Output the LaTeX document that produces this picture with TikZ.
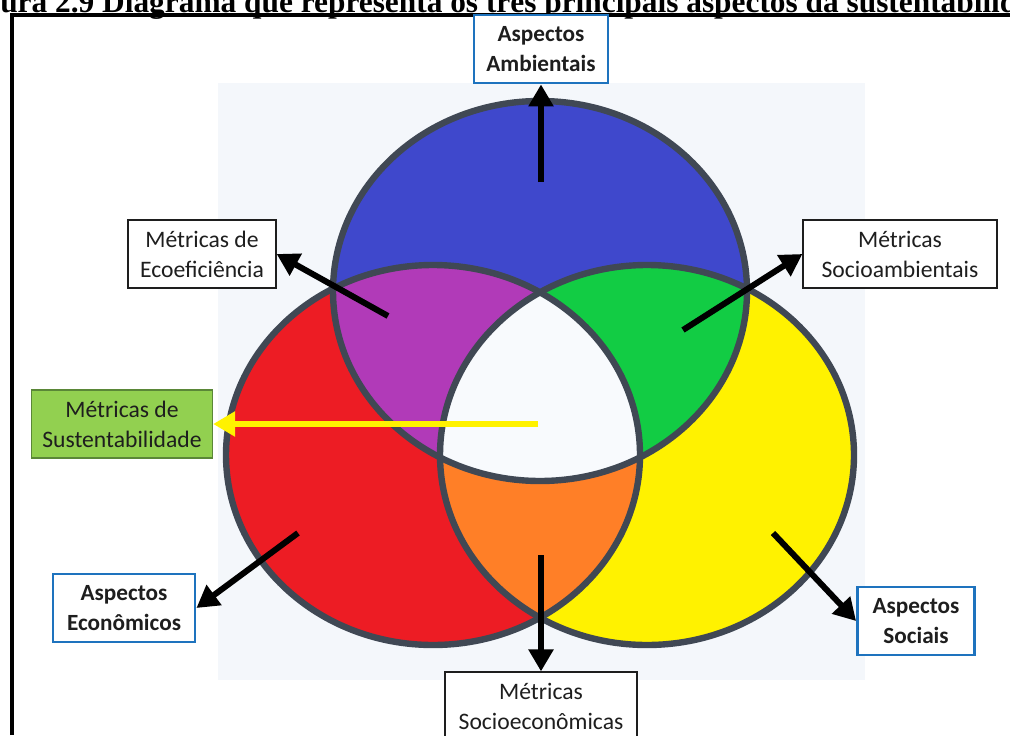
\documentclass[tikz,border=0pt]{standalone}
\usepackage{fontspec}
\setmainfont{Carlito}
\newfontfamily\titlefont{Liberation Serif}
\usepackage{tikz}
\usetikzlibrary{arrows.meta,positioning}
\definecolor{svblue}{RGB}{63,72,204}
\definecolor{svred}{RGB}{237,28,36}
\definecolor{svyellow}{RGB}{255,242,0}
\definecolor{svpurple}{RGB}{177,58,184}
\definecolor{svgreen}{RGB}{18,204,68}
\definecolor{svorange}{RGB}{255,127,39}
\definecolor{svwhite}{RGB}{248,250,253}
\definecolor{svpanel}{RGB}{244,247,251}
\definecolor{svring}{RGB}{64,72,84}
\definecolor{svframe}{RGB}{30,115,190}
\definecolor{svlime}{RGB}{146,208,80}
\definecolor{svlimedark}{RGB}{90,135,55}
\definecolor{svtext}{RGB}{30,30,30}
\tikzstyle{aspbox} = [rectangle, minimum height=1.7cm, align=center, draw=svframe, fill=white, line width=0.07cm, text=svtext, font=\fontsize{16.5}{21.3}\selectfont\bfseries]
\tikzstyle{metbox} = [rectangle, minimum height=1.7cm, align=center, draw=svtext, fill=white, line width=0.03cm, text=svtext, font=\fontsize{16.8}{21.3}\selectfont]
\tikzstyle{susbox} = [metbox, fill=svlime, draw=svlimedark]
\tikzstyle{ring} = [draw=svring, line width=0.16cm]
\tikzstyle{arrow} = [line width=0.15cm, -{Triangle[length=0.55cm,width=0.6cm]}, color=black]
\def\envring{(cA) ellipse [x radius=207, y radius=190]}
\def\ecoring{(cE) ellipse [x radius=207, y radius=190]}
\def\socring{(cS) ellipse [x radius=207, y radius=190]}

\begin{document}
\begin{tikzpicture}[x=0.025cm, y=-0.025cm]
\useasboundingbox (0,0) rectangle (1010,735);
\clip (0,0) rectangle (1010,735);

% caption, cut off at the top
\node[anchor=base west, inner sep=0, font=\titlefont\bfseries\fontsize{22.3}{26}\selectfont] (cap) at (0,13) {\llap{Fig}ura 2.9 Diagrama que representa os três principais aspectos da sustentabilidade};
\draw[line width=0.1cm] (12,735) -- (12,15) -- (1010,15);

% panel behind the rings
\fill[svpanel] (218,83) rectangle (865,680);

% the three rings
\coordinate (cA) at (540,291);
\coordinate (cE) at (433,455);
\coordinate (cS) at (647,455);
\fill[svblue] \envring;
\fill[svred] \ecoring;
\fill[svyellow] \socring;
\begin{scope}
\clip \envring;
\fill[svpurple] \ecoring;
\fill[svgreen] \socring;
\end{scope}
\begin{scope}
\clip \ecoring;
\fill[svorange] \socring;
\clip \envring;
\fill[svwhite] \socring;
\end{scope}
\draw[ring] \envring;
\draw[ring] \ecoring;
\draw[ring] \socring;

% boxes
\node[aspbox, minimum width=3.35cm] (amb) at (541,49) {Aspectos\\Ambientais};
\node[metbox, minimum width=3.7cm] (eef) at (202,254) {Métricas de\\Ecoeficiência};
\node[metbox, minimum width=4.85cm] (sam) at (900,254) {Métricas\\Socioambientais};
\node[susbox, minimum width=4.525cm] (sus) at (122,424) {Métricas de\\Sustentabilidade};
\node[aspbox, minimum width=3.55cm] (eco) at (124,608) {Aspectos\\Econômicos};
\node[aspbox, minimum width=2.925cm] (soc) at (916,621) {Aspectos\\Sociais};
\node[metbox, minimum width=4.8cm] (sec) at (541,706) {Métricas\\Socioeconômicas};

% arrows
\coordinate (tamb) at (541,182);
\coordinate (teef) at (388,316);
\coordinate (tsam) at (683,330);
\coordinate (tsus) at (538,424);
\coordinate (teco) at (298,533);
\coordinate (tsoc) at (773,533);
\coordinate (tsec) at (541,555);
\draw[arrow] (tamb) -- (amb.south);
\draw[arrow] (teef) -- (eef.east);
\draw[arrow] (tsam) -- (sam.west);
\draw[arrow, color=svyellow] (tsus) -- (sus.east);
\draw[arrow] (teco) -- (eco.east);
\draw[arrow] (tsoc) -- (soc.west);
\draw[arrow] (tsec) -- (sec.north);
\end{tikzpicture}
\end{document}
